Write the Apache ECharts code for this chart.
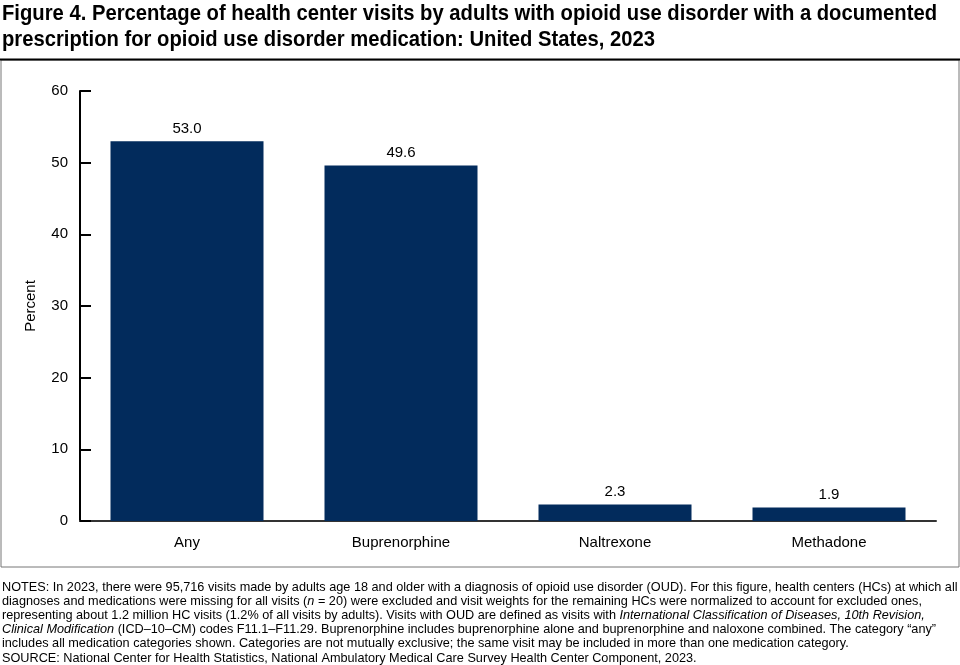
<!DOCTYPE html>
<html><head><meta charset="utf-8">
<script src="https://cdn.jsdelivr.net/npm/echarts@6/dist/echarts.min.js"></script>
<style>html,body{margin:0;padding:0;background:#fff}#c{width:960px;height:665px}</style>
</head><body><div id="c"></div>
<script>
const categories = ['Any', 'Buprenorphine', 'Naltrexone', 'Methadone'];
const percentValues = [53.0, 49.6, 2.3, 1.9];
const yTicks = [0, 10, 20, 30, 40, 50, 60];

const titleLines = [
  'Figure 4. Percentage of health center visits by adults with opioid use disorder with a documented',
  'prescription for opioid use disorder medication: United States, 2023'
];
const notesText =
 'NOTES: In 2023, there were 95,716 visits made by adults age 18 and older with a diagnosis of opioid use disorder (OUD). For this figure, health centers (HCs) at which all\n' +
 'diagnoses and medications were missing for all visits ({i|n} = 20) were excluded and visit weights for the remaining HCs were normalized to account for excluded ones,\n' +
 'representing about 1.2 million HC visits (1.2% of all visits by adults). Visits with OUD are defined as visits with {i|International Classification of Diseases, 10th Revision,}\n' +
 '{i|Clinical Modification} (ICD\u201310\u2013CM) codes F11.1\u2013F11.29. Buprenorphine includes buprenorphine alone and buprenorphine and naloxone combined. The category \u201cany\u201d\n' +
 'includes all medication categories shown. Categories are not mutually exclusive; the same visit may be included in more than one medication category.\n' +
 'SOURCE: National Center for Health Statistics, National Ambulatory Medical Care Survey Health Center Component, 2023.';

const sansFam = "'Liberation Sans', Arial, sans-serif";
const titleFont = 'bold 22px ' + sansFam;
const cv = document.createElement('canvas').getContext('2d');
cv.font = titleFont;
const titleScale = 935 / cv.measureText(titleLines[0]).width;

const chart = echarts.init(document.getElementById('c'), null, {renderer: 'canvas'});
chart.setOption({
  animation: false,
  graphic: [
    {type: 'rect', shape: {x: 1, y: 60, width: 958, height: 507}, style: {fill: 'none', stroke: '#777', lineWidth: 1}, z: 0},
    {type: 'line', shape: {x1: 0, y1: 59.5, x2: 960, y2: 59.5}, style: {stroke: '#000', lineWidth: 2}, z: 1},
    {type: 'text', x: 2, y: 3, scaleX: titleScale, style: {text: titleLines[0], x: 0, y: 0, fontFamily: sansFam, fontWeight: 'bold', fontSize: 22, fill: '#000', verticalAlign: 'top'}},
    {type: 'text', x: 2, y: 29, scaleX: titleScale, style: {text: titleLines[1], x: 0, y: 0, fontFamily: sansFam, fontWeight: 'bold', fontSize: 22, fill: '#000', verticalAlign: 'top'}},
    {type: 'text', left: 2, top: 580, style: {
      text: notesText, fontFamily: sansFam, fontSize: 12.7, lineHeight: 14.2, fill: '#000',
      rich: {i: {fontStyle: 'italic', fontFamily: sansFam, fontSize: 12.7, lineHeight: 14.2}}
    }}
  ],
  grid: {left: 80, right: 24, top: 91, bottom: 144},
  xAxis: {
    type: 'category', data: categories,
    axisLine: {lineStyle: {color: '#333', width: 2}},
    axisTick: {show: false},
    axisLabel: {color: '#000', fontSize: 15, fontFamily: sansFam, margin: 14}
  },
  yAxis: {
    type: 'value', min: yTicks[0], max: yTicks[yTicks.length - 1], interval: 10,
    name: 'Percent', nameLocation: 'middle', nameGap: 42, nameRotate: 90,
    nameTextStyle: {color: '#000', fontSize: 15, fontFamily: sansFam},
    axisLine: {show: true, lineStyle: {color: '#000', width: 2}},
    axisTick: {show: true, inside: true, length: 11, lineStyle: {color: '#000', width: 2}},
    splitLine: {show: false},
    axisLabel: {color: '#000', fontSize: 15, fontFamily: sansFam, margin: 12}
  },
  series: [{
    type: 'bar', data: percentValues, barWidth: 153,
    itemStyle: {color: '#022b5c'},
    label: {show: true, position: 'top', distance: 5, color: '#000', fontSize: 15,
      fontFamily: sansFam, formatter: p => p.value.toFixed(1)}
  }]
});
</script></body></html>
